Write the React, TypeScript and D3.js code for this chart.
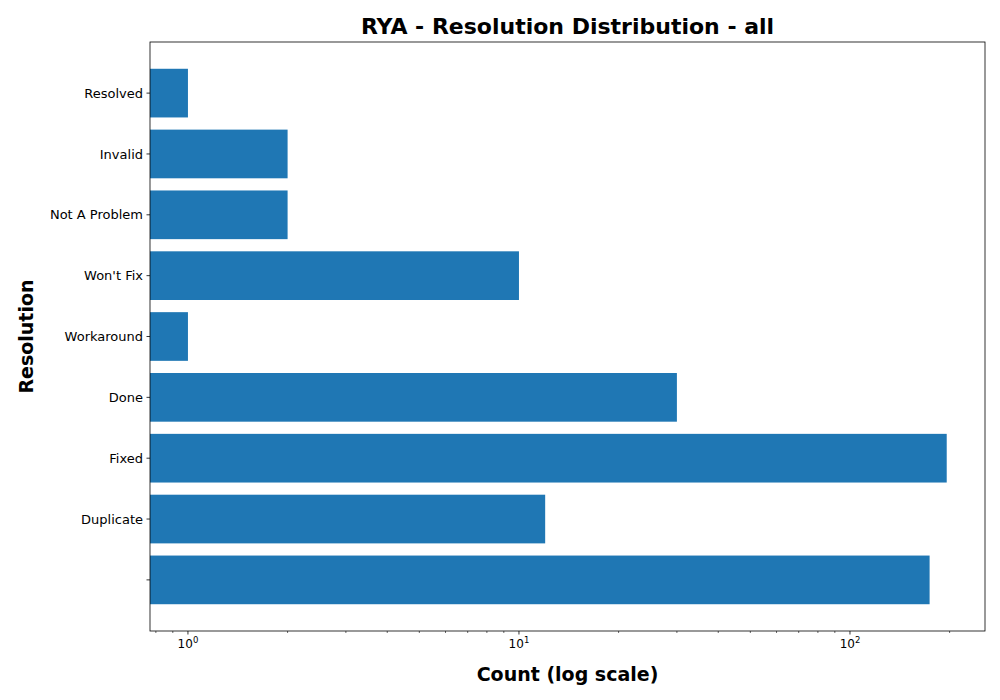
import React from "react";
import * as d3 from "d3";

const categories = ["", "Duplicate", "Fixed", "Done", "Workaround", "Won't Fix", "Not A Problem", "Invalid", "Resolved"];
const counts = [174, 12, 196, 30, 1, 10, 2, 2, 1];
const majorTicks = [1, 10, 100];

export default function App() {
  const W = 1000, H = 700;
  const L = 150, R = 985, T = 42, B = 631;
  const x = d3.scaleLog().domain([0.768, 255.8]).range([L, R]);
  const y = d3.scaleLinear().domain([-0.84, 8.84]).range([B, T]);
  const minor: number[] = [];
  for (const d of [0.1, 1, 10, 100]) for (let k = 2; k <= 9; k++) {
    const v = d * k;
    if (v >= 0.768 && v <= 255.8) minor.push(v);
  }
  const font = "DejaVu Sans";
  return (
    <svg width={W} height={H} style={{ position: "absolute", left: 0, top: 0 }} fontFamily={font}>
      <rect width={W} height={H} fill="white" />
      {counts.map((c, i) => (
        <rect key={i} x={L} width={x(c) - L} y={y(i + 0.4)} height={y(i - 0.4) - y(i + 0.4)} fill="#1f77b4" />
      ))}
      <rect x={L} y={T} width={R - L} height={B - T} fill="none" stroke="black" strokeWidth={0.8} />
      {majorTicks.map((t, i) => (
        <g key={t}>
          <line x1={x(t)} x2={x(t)} y1={B} y2={B + 3.5} stroke="black" strokeWidth={0.8} />
          <text x={x(t)} y={B + 17} textAnchor="middle" fontSize={12}>
            10<tspan dy={-5} fontSize={8.5}>{i}</tspan>
          </text>
        </g>
      ))}
      {minor.map((t) => (
        <line key={t} x1={x(t)} x2={x(t)} y1={B} y2={B + 2} stroke="black" strokeWidth={0.6} />
      ))}
      {categories.map((c, i) => (
        <g key={i}>
          <line x1={L - 3.5} x2={L} y1={y(i)} y2={y(i)} stroke="black" strokeWidth={0.8} />
          <text x={L - 7} y={y(i)} dy="0.35em" textAnchor="end" fontSize={13}>{c}</text>
        </g>
      ))}
      <text x={(L + R) / 2} y={34} textAnchor="middle" fontSize={22} fontWeight="bold">RYA - Resolution Distribution - all</text>
      <text x={(L + R) / 2} y={681} textAnchor="middle" fontSize={19} fontWeight="bold">Count (log scale)</text>
      <text transform={`translate(33,${(T + B) / 2}) rotate(-90)`} textAnchor="middle" fontSize={19} fontWeight="bold">Resolution</text>
    </svg>
  );
}
